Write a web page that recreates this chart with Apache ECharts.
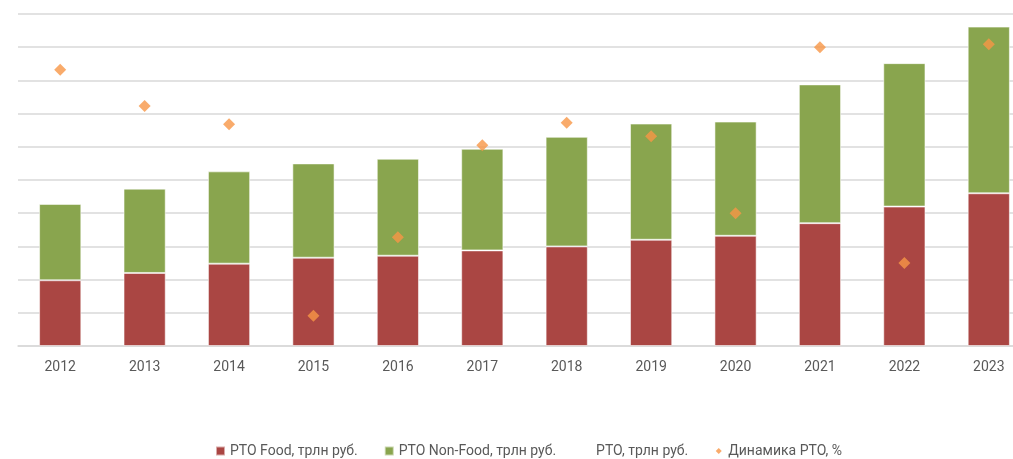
<!DOCTYPE html>
<html>
<head>
<meta charset="utf-8">
<script src="https://cdn.jsdelivr.net/npm/echarts@6/dist/echarts.min.js"></script>
<style>
  html, body { margin: 0; padding: 0; background: #fff; }
  #box { width: 1013px; height: 459px; }
</style>
</head>
<body>
<div id="box"></div>
<script>
// годы
const years = ["2012", "2013", "2014", "2015", "2016", "2017", "2018", "2019", "2020", "2021", "2022", "2023"];
// РТО Food, трлн руб.
const foodValues = [9.9, 11.0, 12.4, 13.3, 13.6, 14.4, 15.0, 16.0, 16.6, 18.5, 21.0, 23.0];
// РТО Non-Food, трлн руб.
const nonFoodValues = [11.5, 12.7, 13.9, 14.2, 14.6, 15.3, 16.5, 17.5, 17.2, 20.9, 21.6, 25.1];
// РТО всего, трлн руб.
const totalValues = [21.4, 23.7, 26.3, 27.5, 28.2, 29.7, 31.5, 33.5, 33.8, 39.4, 42.6, 48.1];
// Динамика РТО, %
const growthValues = [6.3, 3.9, 2.7, -10.0, -4.8, 1.3, 2.8, 1.9, -3.2, 7.8, -6.5, 8.0];

const chart = echarts.init(document.getElementById("box"));

// маленький ромб внутри квадрата легенды
const smallDiamond = "path://M0,0M12,12M6,2L10,6L6,10L2,6Z";

const option = {
  backgroundColor: "#fff",
  animation: false,
  textStyle: { fontFamily: "Roboto" },
  // правый край графика обрезан, как в оригинале
  grid: { left: 18, right: -18, top: 14, bottom: 113, outerBoundsMode: "none" },
  legend: {
    bottom: 1,
    left: 215,
    padding: 0,
    itemGap: 26,
    itemWidth: 9,
    itemHeight: 9,
    textStyle: { color: "#595959", fontSize: 14, fontFamily: "Roboto" },
    data: [
      { name: "РТО Food, трлн руб.", icon: "rect" },
      { name: "РТО Non-Food, трлн руб.", icon: "rect" },
      { name: "РТО, трлн руб.", icon: "rect", itemStyle: { opacity: 0 } },
      { name: "Динамика РТО, %", icon: smallDiamond },
    ],
  },
  xAxis: {
    type: "category",
    data: years,
    axisTick: { show: false },
    axisLine: { lineStyle: { color: "#d9d9d9", width: 1.5 } },
    axisLabel: { color: "#595959", fontSize: 14, margin: 14 },
  },
  yAxis: [
    {
      type: "value",
      min: 0,
      max: 50,
      interval: 5,
      axisLabel: { show: false },
      axisLine: { show: false },
      axisTick: { show: false },
      splitLine: { lineStyle: { color: "#d9d9d9", width: 1.5 } },
    },
    {
      type: "value",
      min: -12,
      max: 10,
      show: false,
      splitLine: { show: false },
    },
  ],
  series: [
    {
      name: "РТО Food, трлн руб.",
      type: "bar",
      stack: "rto",
      data: foodValues,
      barWidth: "50%",
      itemStyle: { color: "#AA4643", borderColor: "rgba(255,255,255,0.55)", borderWidth: 1 },
    },
    {
      name: "РТО Non-Food, трлн руб.",
      type: "bar",
      stack: "rto",
      data: nonFoodValues,
      barWidth: "50%",
      itemStyle: { color: "#89A54E", borderColor: "rgba(255,255,255,0.55)", borderWidth: 1 },
    },
    {
      name: "РТО, трлн руб.",
      type: "line",
      data: totalValues,
      symbol: "none",
      lineStyle: { opacity: 0 },
      itemStyle: { opacity: 0 },
      silent: true,
    },
    {
      name: "Динамика РТО, %",
      type: "scatter",
      yAxisIndex: 1,
      data: growthValues,
      symbol: "diamond",
      symbolSize: 12,
      itemStyle: { color: "#F79646" },
      z: 5,
    },
  ],
};

chart.setOption(option);
</script>
</body>
</html>
